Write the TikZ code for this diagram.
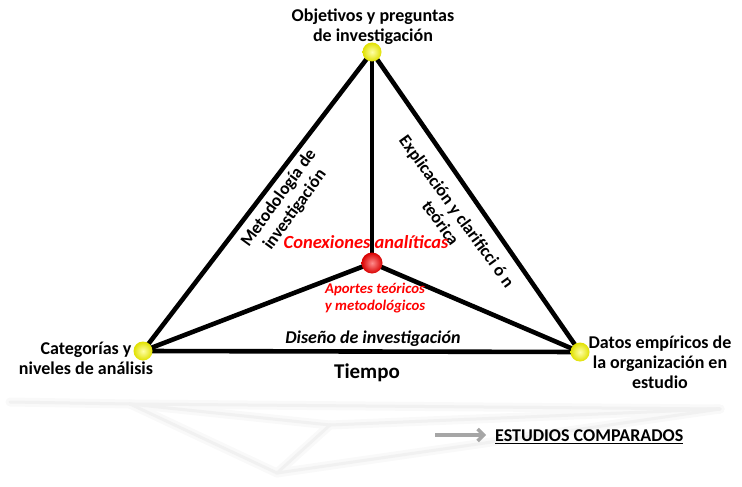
\documentclass[tikz,border=0pt]{standalone}
\usepackage{fontspec}
\setmainfont{Carlito}
\usetikzlibrary{arrows.meta}
\begin{document}
\begin{tikzpicture}[x=1pt,y=-1pt,
  edge/.style={line width=4.6pt, black, line cap=round},
  echo/.style={line width=9pt, gray!5, line cap=round},
  echofine/.style={line width=3pt, gray!11, line cap=round},
  vlabel/.style={font=\bfseries\fontsize{18}{20}\selectfont, align=center, inner sep=0pt},
  slabel/.style={font=\bfseries\fontsize{17.5}{20}\selectfont, align=center, inner sep=0pt},
  redlabel/.style={font=\bfseries\itshape\fontsize{18.5}{20}\selectfont, text=red, inner sep=0pt},
  redsmall/.style={font=\bfseries\itshape\fontsize{14.8}{16.5}\selectfont, text=red, align=center, inner sep=0pt},
  yball/.style={inner color=yellow!35!white, outer color=yellow!88!black},
  rball/.style={inner color=red!45!white, outer color=red!85!black}]
\useasboundingbox (0,0) rectangle (742,487);

% vertices of the triangle and its centre
\coordinate (T) at (372,52);
\coordinate (L) at (143,351);
\coordinate (R) at (580,352);
\coordinate (C) at (372,263);

% faint mirrored image below the base
\coordinate (eL) at (130,404);
\coordinate (eR) at (720,409);
\coordinate (eA) at (277,473);
\coordinate (eC) at (330,425);
\coordinate (eW) at (10,402);
\foreach \s in {echo,echofine}{
  \draw[\s] (eW) -- (eL);
  \draw[\s] (eL) -- (eR);
  \draw[\s] (eL) -- (eA);
  \draw[\s] (eA) -- (eC);
  \draw[\s] (eA) -- (eR);
  \draw[\s] (eL) -- (eC);
  \draw[\s] (eC) -- (eR);
}

% triangle edges and the spokes to the centre
\draw[edge] (T) -- (L);
\draw[edge] (T) -- (R);
\draw[edge] (L) -- (R);
\draw[edge] (T) -- (C);
\draw[edge] (C) -- (L);
\draw[edge] (C) -- (R);

% balls
\shade[yball] (T) circle (9.5);
\shade[yball] (L) circle (9.5);
\shade[yball] (R) circle (9.5);
\shade[rball] (C) circle (10.5);

% vertex labels
\node[vlabel] (top) at (373,27) {Objetivos y preguntas\\de investigación};
\node[vlabel] (left) at (86,358) {Categorías y\\niveles de análisis};
\node[vlabel] (right) at (660,362) {Datos empíricos de\\la organización en\\estudio};

% edge labels
\node[slabel, rotate=54] (met) at (287,204) {Metodología de\\investigación};
\node[slabel, rotate=-54] (exp) at (449,217) {Explicación y clarificci ó n\\teórica};
\node[font=\bfseries\itshape\fontsize{18}{20}\selectfont, inner sep=0pt] (dis) at (373,339) {Diseño de investigación};
\node[font=\bfseries\fontsize{21}{22}\selectfont, inner sep=0pt] (tie) at (367,373) {Tiempo};

% centre labels
\node[redlabel] (con) at (366,242) {Conexiones analíticas};
\node[redsmall] (apo) at (375,298) {Aportes teóricos\\y metodológicos};

% legend
\coordinate (a1) at (435,435);
\coordinate (a2) at (486,435);
\draw[line width=3.5pt, gray!70, -{Straight Barb[length=6pt,width=12pt]}] (a1) -- (a2);
\node[font=\bfseries\fontsize{18}{20}\selectfont, inner sep=0pt, anchor=west] (est) at (495,437) {\underline{ESTUDIOS COMPARADOS}};
\end{tikzpicture}
\end{document}
